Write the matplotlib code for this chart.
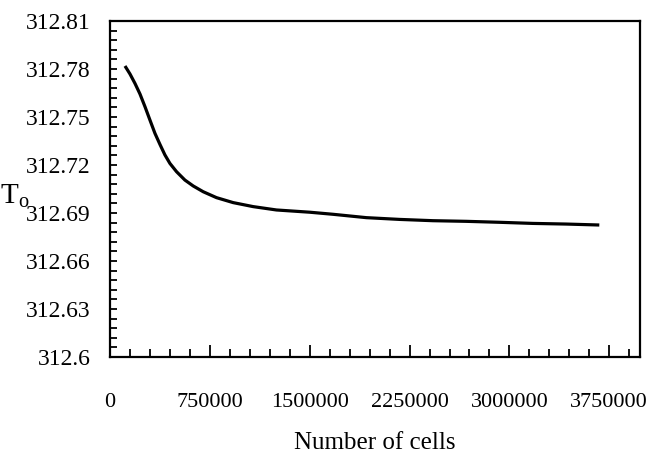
import matplotlib.pyplot as plt
from matplotlib.ticker import MultipleLocator

plt.rcParams['font.family'] = ['Liberation Serif', 'DejaVu Serif']
plt.rcParams['mathtext.fontset'] = 'custom'
plt.rcParams['mathtext.rm'] = 'Liberation Serif'
plt.rcParams['mathtext.it'] = 'Liberation Serif'

# grid independence data
cells = [112500, 150000, 187500, 225000, 262500, 300000, 337500, 375000,
         412500, 450000, 500000, 562500, 625000, 700000, 800000, 925000,
         1075000, 1250000, 1500000, 1675000, 1925000, 2175000, 2425000,
         2675000, 2925000, 3175000, 3425000, 3675000]
t_out = [312.7819, 312.7769, 312.7710, 312.7644, 312.7565, 312.7481, 312.7398, 312.7329,
         312.7263, 312.7210, 312.7158, 312.7106, 312.7069, 312.7033, 312.6996, 312.6965,
         312.6940, 312.6919, 312.6905, 312.6892, 312.6871, 312.6860, 312.6852,
         312.6848, 312.6842, 312.6835, 312.6831, 312.6825]

x_ticks = [0, 750000, 1500000, 2250000, 3000000, 3750000]
y_ticks = [312.6, 312.63, 312.66, 312.69, 312.72, 312.75, 312.78, 312.81]
y_tick_labels = ['312.6', '312.63', '312.66', '312.69', '312.72', '312.75', '312.78', '312.81']

fig = plt.figure(figsize=(6.49, 4.70), dpi=100)
ax = fig.add_axes([0.1695, 0.2404, 0.8165, 0.7149])

ax.plot(cells, t_out, color='black', lw=2.3, solid_capstyle='butt', solid_joinstyle='round')

ax.set_xlim(0, 3980000)
ax.set_ylim(312.6, 312.81)
ax.set_xticks(x_ticks)
ax.set_xticklabels([str(v) for v in x_ticks])
ax.set_yticks(y_ticks)
ax.set_yticklabels(y_tick_labels)
ax.xaxis.set_minor_locator(MultipleLocator(150000))
ax.yaxis.set_minor_locator(MultipleLocator(0.006))

ax.tick_params(axis='both', which='both', direction='in', width=1.3)
ax.tick_params(axis='x', which='major', length=9, pad=26, labelsize=16)
ax.tick_params(axis='x', which='minor', length=6)
ax.tick_params(axis='y', which='both', length=5, pad=14, labelsize=17)

for sp in ax.spines.values():
    sp.set_linewidth(1.6)

ax.set_xlabel('Number of cells', fontsize=18, labelpad=14)
fig.text(0.022, 0.583, r'$\mathrm{T_o}$', fontsize=21, ha='center', va='center')

fig.savefig('out.png', dpi=100)
